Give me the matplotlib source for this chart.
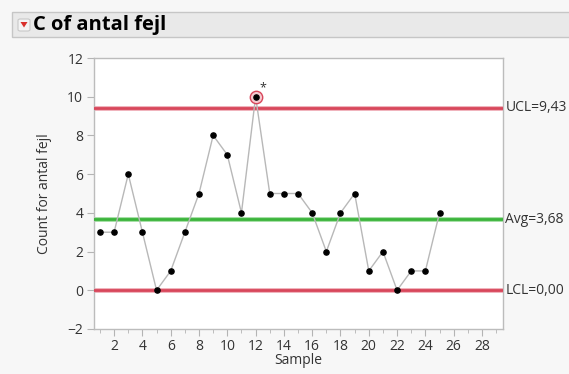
import numpy as np
import matplotlib.pyplot as plt
from matplotlib.patches import Rectangle, FancyBboxPatch, Polygon

plt.rcParams['font.family'] = ['Open Sans', 'DejaVu Sans']

samples = list(range(1, 26))
counts = [3, 3, 6, 3, 0, 1, 3, 5, 8, 7, 4, 10, 5, 5, 5, 4, 2, 4, 5, 1, 2, 0, 1, 1, 4]
ucl = 9.43
avg = 3.68
lcl = 0.0
flagged = [12]

fig = plt.figure(figsize=(5.69, 3.74), dpi=100)
fig.patch.set_facecolor('#f7f7f7')

# header bar with the outline-node triangle
fig.patches.append(Rectangle((12 / 569, 1 - 37 / 374), 1, 25 / 374, transform=fig.transFigure,
                             facecolor='#e9e9e9', edgecolor='#c6c6c6', lw=1))
fig.patches.append(FancyBboxPatch((18 / 569, 1 - 31 / 374), 12 / 569, 12 / 374,
                                  boxstyle='round,pad=0,rounding_size=0.004',
                                  transform=fig.transFigure, facecolor='#f4f4f4',
                                  edgecolor='#c8c8c8', lw=0.8))
fig.patches.append(Polygon([(20.5 / 569, 1 - 22 / 374), (27.5 / 569, 1 - 22 / 374),
                            (24 / 569, 1 - 27.5 / 374)], closed=True,
                           transform=fig.transFigure, facecolor='#d9302c', edgecolor='none'))
fig.text(33 / 569, 1 - 25 / 374, 'C of antal fejl', fontsize=14.5, fontweight='bold',
         va='center', ha='left', color='black')

ax = fig.add_axes([93.6 / 569, 45 / 374, (502.5 - 93.6) / 569, (329 - 58) / 374])
ax.set_facecolor('white')

for y, c, glow in [(ucl, '#d8475b', '#f0b4bd'), (lcl, '#d8475b', '#f0b4bd'), (avg, '#3bb43b', '#a8e0a8')]:
    ax.axhline(y, color=glow, lw=3.6, zorder=2)
    ax.axhline(y, color=c, lw=2.0, zorder=3)

ax.plot(samples, counts, color='#b8b8b8', lw=1.0, zorder=4)
ax.scatter(samples, counts, s=14, color='black', zorder=6)

for s in flagged:
    v = counts[s - 1]
    ax.scatter([s], [v], s=80, facecolor='#f6c9cf', edgecolor='#d8475b', lw=1.0, zorder=5)
    ax.annotate('*', (s, v), xytext=(3, 2), textcoords='offset points',
                fontsize=9, color='#333333', ha='left', va='bottom', zorder=7)

ax.set_xlim(0.55, 29.45)
ax.set_ylim(-2, 12)
ax.set_xticks(range(2, 29, 2))
ax.set_xticks(range(1, 30, 2), minor=True)
ax.set_yticks(range(-2, 13, 2))

for side in ['left', 'bottom', 'top', 'right']:
    ax.spines[side].set_color('#bcbcbc')
    ax.spines[side].set_linewidth(1.0)

ax.tick_params(axis='both', which='major', length=5, color='#b4b4b4',
               labelsize=10, labelcolor='#333333', pad=2.5)
ax.tick_params(axis='x', which='minor', length=3, color='#b4b4b4')

ax.set_xlabel('Sample', fontsize=10, color='#333333', labelpad=-1)
ax.set_ylabel('Count for antal fejl', fontsize=10, color='#333333', labelpad=11)

for y, lbl in [(ucl, 'UCL=9,43'), (avg, 'Avg=3,68'), (lcl, 'LCL=0,00')]:
    ax.annotate(lbl, (1, y), xycoords=('axes fraction', 'data'), xytext=(2, 0),
                textcoords='offset points', fontsize=10, color='#333333',
                va='center', ha='left', annotation_clip=False)

fig.savefig('out.png', dpi=100, facecolor=fig.get_facecolor())
